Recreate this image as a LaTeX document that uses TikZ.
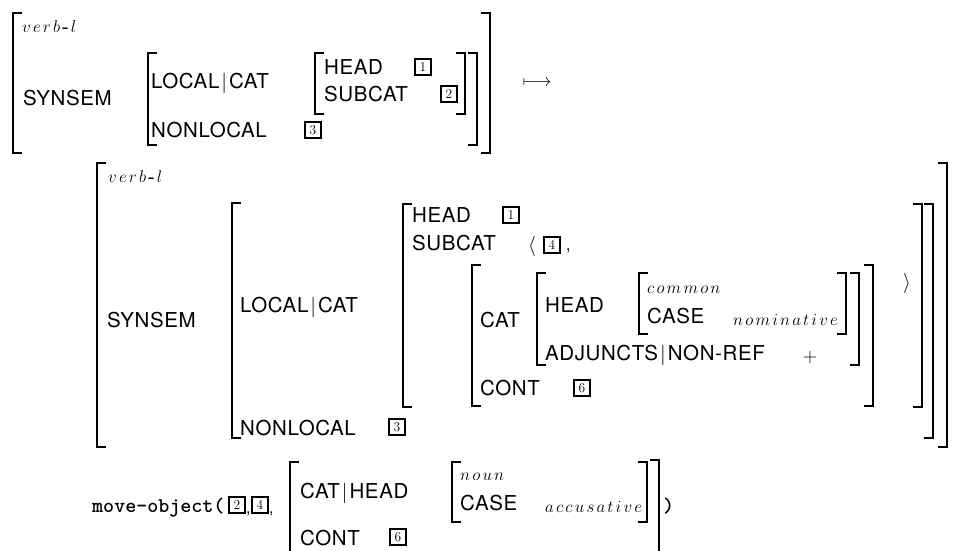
\RequirePackage{fix-cm}
\documentclass[tikz,border=0pt]{standalone}
\usepackage{fontspec}
\newfontfamily\hv[LetterSpace=3]{TeX Gyre Heros}
\makeatletter
\def\lsp@#1{\ifx#1\@nil\else\ifx#1-\mbox{\bfseries-}\else#1\fi\kern2.2pt\expandafter\lsp@\fi}
\newcommand\tyname[1]{$\lsp@#1\@nil$}
\makeatother
\newcommand\avmbar{\kern2pt$|$\kern2pt}
\newcommand\LB[3]{\draw[brk] ({#1+9},#2) -- (#1,#2) -- (#1,#3) -- ({#1+9},#3);}
\newcommand\RB[3]{\draw[brk] ({#1-9},#2) -- (#1,#2) -- (#1,#3) -- ({#1-9},#3);}
\tikzset{
  brk/.style={line width=2.6pt, line cap=butt, line join=miter},
  attr/.style={font=\hv\fontsize{20.5}{24}\selectfont, anchor=base west, inner sep=0pt},
  typ/.style={font=\fontsize{17}{19}\selectfont, anchor=base west, inner sep=0pt},
  ttx/.style={font=\ttfamily\bfseries\fontsize{21}{24}\selectfont, anchor=base west, inner sep=0pt},
  sym/.style={font=\fontsize{20}{24}\selectfont, inner sep=0pt},
  cma/.style={font=\hv\fontsize{16}{18}\selectfont, anchor=base west, inner sep=0pt},
  tagbox/.style={draw, line width=2.4pt, minimum width=16pt, minimum height=16pt, inner sep=0pt, font=\rmfamily\fontsize{13.5}{14}\selectfont},
}
\begin{document}
\begin{tikzpicture}[x=1pt,y=-1pt]
\useasboundingbox (0,0) rectangle (973,550);
\clip (0,0) rectangle (973,550);
% ---------- top AVM ----------
\LB{13}{13}{153}
\node[typ] (v1) at (22,32) {\tyname{verb-l}};
\node[attr] (syn1) at (23,105) {SYNSEM};
\LB{148}{53}{145}
\node[attr] (lc1) at (151,88) {LOCAL\avmbar CAT};
\LB{315}{53}{114}
\node[attr] (hd1) at (324,74) {HEAD};
\node[tagbox] (t1) at (423,67) {1};
\node[attr] (sc1) at (324,101) {SUBCAT};
\node[tagbox] (t2) at (449,94) {2};
\RB{465}{53}{114}
\RB{477}{53}{145}
\node[attr] (nl1) at (151,137) {NONLOCAL};
\node[tagbox] (t3) at (313,130) {3};
\RB{490}{13}{153}
\node[font=\fontsize{18}{20}\selectfont, inner sep=0pt] (arr) at (537,83) {$\longmapsto$};
% ---------- middle AVM ----------
\LB{97}{163}{447}
\node[typ] (v2) at (108,182) {\tyname{verb-l}};
\node[attr] (syn2) at (107,327) {SYNSEM};
\LB{232}{203}{438}
\node[attr] (lc2) at (240,312) {LOCAL\avmbar CAT};
\LB{403}{204}{407}
\node[attr] (hd2) at (412,222) {HEAD};
\node[tagbox] (t1b) at (511,215) {1};
\node[attr] (sc2) at (412,250) {SUBCAT};
\node[sym] (la) at (532,246) {$\langle$};
\node[tagbox] (t4) at (552,245) {4};
\node[cma] (c1) at (566,250) {,};
\LB{472}{265}{406}
\node[attr] (cat2) at (480,327) {CAT};
\LB{537}{273}{365}
\node[attr] (hd3) at (545,312) {HEAD};
\LB{639}{273}{334}
\node[typ] (com) at (647,293) {\tyname{common}};
\node[attr] (case1) at (647,323) {CASE};
\node[typ] (nom) at (733,325) {\tyname{nominative}};
\RB{846}{273}{334}
\RB{859}{273}{365}
\node[attr] (adj) at (545,360) {ADJUNCTS\avmbar NON-REF};
\node[sym] (plus) at (810,357) {$+$};
\RB{873}{265}{406}
\node[attr] (cont1) at (480,395) {CONT};
\node[tagbox] (t6) at (582,388) {6};
\node[sym] (ra) at (907,283) {$\rangle$};
\RB{922}{204}{407}
\RB{933}{204}{438}
\node[attr] (nl2) at (240,435) {NONLOCAL};
\node[tagbox] (t3b) at (397,427) {3};
\RB{947}{163}{447}
% ---------- bottom ----------
\node[ttx] (mo) at (92,512) {move-object(};
\node[tagbox] (t2c) at (237,505) {2};
\node[cma] (c2) at (246,513) {,};
\node[tagbox] (t4c) at (260,505) {4};
\node[cma] (c3) at (269,513) {,};
\LB{290}{462}{570}
\node[attr] (ch) at (300,498) {CAT\avmbar HEAD};
\node[attr] (cont2) at (300,545) {CONT};
\node[tagbox] (t6c) at (398,537) {6};
\LB{452}{462}{522}
\node[typ] (noun) at (460,480) {\tyname{noun}};
\node[attr] (case2) at (460,510) {CASE};
\node[typ] (acc) at (545,512) {\tyname{accusative}};
\RB{647}{462}{522}
\RB{659}{460}{570}
\node[ttx] (rp) at (663,512) {)};
\end{tikzpicture}
\end{document}
